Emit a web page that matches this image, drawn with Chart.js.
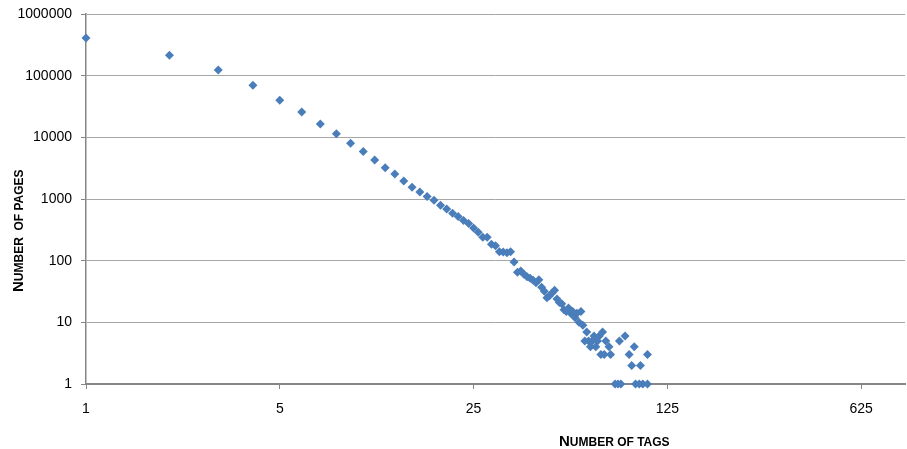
<!DOCTYPE html>
<html>
<head>
<meta charset="utf-8">
<script src="https://cdn.jsdelivr.net/npm/chart.js@4/dist/chart.umd.min.js"></script>
<style>
  html, body { margin: 0; padding: 0; background: #fff; }
</style>
</head>
<body>
<canvas id="tagsChart" width="907" height="449"></canvas>
<script>
// number of tags on a page, and how many pages have that many tags
tagCounts = [1, 2, 3, 4, 5, 6, 7, 8, 9, 10,
    11, 12, 13, 14, 15, 16, 17, 18, 19, 20,
    21, 22, 23, 24, 25, 26, 27, 28, 29, 30,
    31, 32, 33, 34, 35, 36, 37, 38, 39, 40,
    41, 42, 43, 44, 45, 46, 47, 48, 49, 50,
    51, 52, 53, 54, 55, 56, 57, 58, 59, 60,
    61, 62, 63, 64, 65, 66, 67, 68, 69, 70,
    71, 72, 73, 74, 75, 77, 78, 81, 83, 84,
    85, 88, 91, 93, 95, 96, 99, 100, 102, 106, 106]
pageCounts = [410000, 215000, 124000, 70000, 40000, 25700, 16400, 11400, 8000, 5900,
    4300, 3200, 2550, 1950, 1550, 1300, 1100, 950, 790, 690,
    590, 520, 450, 400, 340, 290, 240, 240, 185, 175,
    140, 138, 135, 140, 95, 65, 68, 60, 55, 52,
    48, 44, 49, 37, 32, 25, 27, 30, 33, 24,
    21, 20, 16, 15, 17, 14, 15, 12, 14, 10,
    15, 9, 5, 7, 5, 4, 5, 6, 4, 5,
    6, 3, 7, 3, 5, 4, 3, 1, 1, 5,
    1, 6, 3, 2, 4, 1, 1, 2, 1, 3, 1]

xTicks = [1, 5, 25, 125, 625]
yTicks = [1, 10, 100, 1000, 10000, 100000, 1000000]

var points = tagCounts.map(function (t, i) {
    return { x: t, y: pageCounts[i] };
});

var axisGrey = '#868686';
var tickFont = { family: '"Liberation Sans", Arial, sans-serif', size: 14 };

// small caps title: big first letter, the rest in smaller capitals
function smallCaps(ctx, text, x, y) {
    var first = text[0].toUpperCase();
    var rest = text.slice(1).toUpperCase();
    ctx.font = 'bold 15px "Liberation Sans", Arial, sans-serif';
    ctx.fillText(first, x, y);
    x += ctx.measureText(first).width;
    ctx.font = 'bold 12px "Liberation Sans", Arial, sans-serif';
    ctx.fillText(rest, x, y);
}

var axisTitles = {
    id: 'axisTitles',
    afterDraw: function (chart) {
        var ctx = chart.ctx;
        ctx.save();
        ctx.fillStyle = '#000';
        ctx.textBaseline = 'alphabetic';
        smallCaps(ctx, 'Number of tags', 559, 446);
        ctx.translate(23, 292);
        ctx.rotate(-Math.PI / 2);
        smallCaps(ctx, 'Number  of pages', 0, 0);
        ctx.restore();
    }
};

var ctx = document.getElementById('tagsChart').getContext('2d');

var myChart = new Chart(ctx, {
    type: 'scatter',
    data: {
        datasets: [{
            label: 'Pages',
            data: points,
            pointStyle: 'rectRot',
            pointRadius: 4.5,
            backgroundColor: '#4A7EBB',
            borderColor: '#4A7EBB',
            borderWidth: 0,
            clip: false
        }]
    },
    options: {
        responsive: false,
        animation: false,
        layout: {
            autoPadding: false,
            padding: { left: 0, top: 14, right: 2, bottom: 0 }
        },
        plugins: {
            legend: { display: false },
            tooltip: { enabled: false }
        },
        scales: {
            x: {
                type: 'logarithmic',
                min: 1,
                max: 900,
                afterBuildTicks: function (scale) {
                    scale.ticks = xTicks.map(function (v) { return { value: v }; });
                },
                afterFit: function (scale) {
                    scale.height = 65;
                    scale.paddingLeft = 0;
                    scale.paddingRight = 0;
                },
                grid: {
                    drawOnChartArea: false,
                    tickLength: 5,
                    color: axisGrey
                },
                border: { color: axisGrey, width: 2 },
                ticks: {
                    color: '#000',
                    font: tickFont,
                    padding: 12,
                    maxRotation: 0,
                    autoSkip: false,
                    callback: function (v) { return String(v); }
                }
            },
            y: {
                type: 'logarithmic',
                min: 1,
                max: 1000000,
                afterBuildTicks: function (scale) {
                    scale.ticks = yTicks.map(function (v) { return { value: v }; });
                },
                afterFit: function (scale) {
                    scale.width = 86;
                    scale.paddingTop = 0;
                    scale.paddingBottom = 0;
                },
                grid: {
                    color: '#a6a6a6',
                    lineWidth: 1,
                    tickLength: 5,
                    tickColor: axisGrey
                },
                border: { color: axisGrey, width: 1.5 },
                ticks: {
                    color: '#000',
                    font: tickFont,
                    padding: 9,
                    autoSkip: false,
                    callback: function (v) { return String(v); }
                }
            }
        }
    },
    plugins: [axisTitles]
});
</script>
</body>
</html>
